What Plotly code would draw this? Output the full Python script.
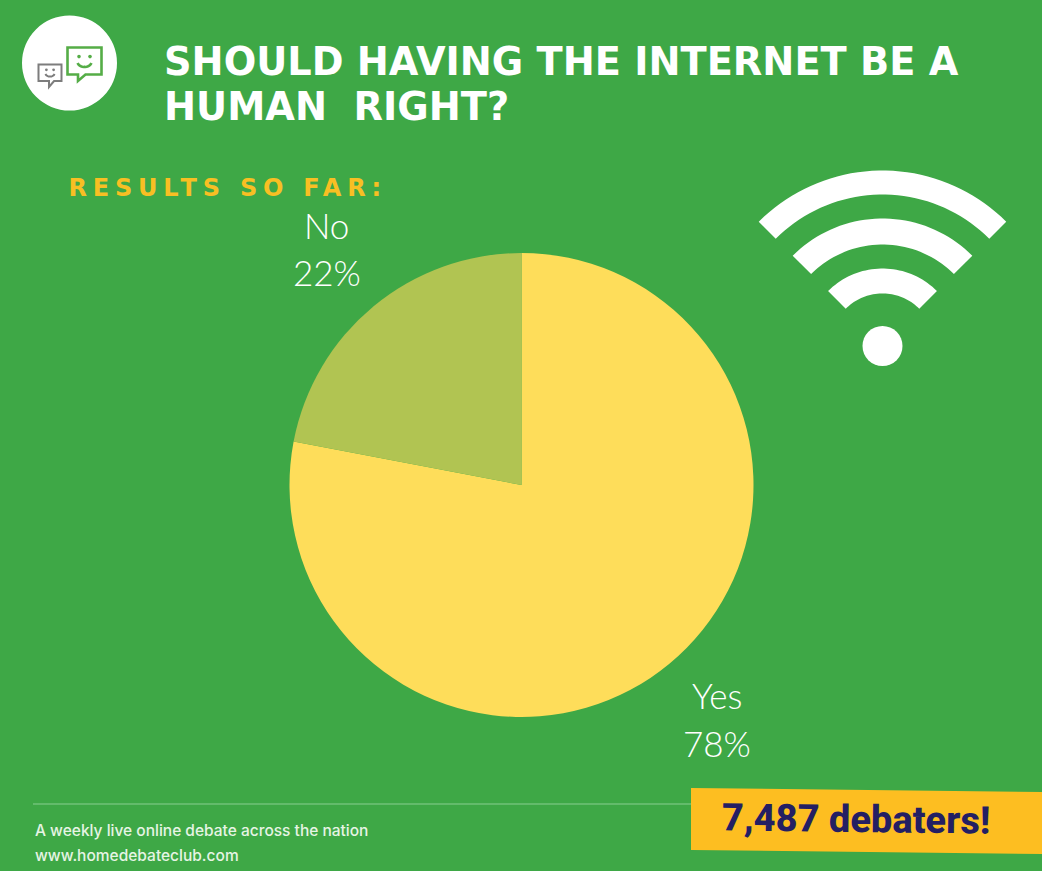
import numpy as np
import plotly.graph_objects as go

W, H = 1042, 871
labels = ["Yes", "No"]
values = [78, 22]
slice_colors = ["#fedd5a", "#b1c452"]
title_lines = ["SHOULD HAVING THE INTERNET BE A", "HUMAN  RIGHT?"]
subtitle = "RESULTS SO FAR:"
banner_text = "7,487 debaters!"
footer_lines = ["A weekly live online debate across the nation", "www.homedebateclub.com"]

BG = "#3ea846"
GOLD = "#fdbe21"
NAVY = "#241f63"
GREY = "#7d7d7d"
LOGO_GREEN = "#55ad47"
FOOT = "#e6f4e4"


def X(v):
    return v / W


def Y(v):
    return 1 - v / H


def poly(points, fill, line=None, width=0):
    path = "M " + " L ".join(f"{X(a):.5f} {Y(b):.5f}" for a, b in points) + " Z"
    return dict(type="path", xref="paper", yref="paper", path=path, fillcolor=fill,
                line=dict(color=line or fill, width=width), layer="above")


def circle(cx, cy, r, fill):
    return dict(type="circle", xref="paper", yref="paper", x0=X(cx - r), x1=X(cx + r),
                y0=Y(cy + r), y1=Y(cy - r), fillcolor=fill, line=dict(width=0), layer="above")


def arc(cx, cy, r, a0, a1, n=40):
    t = np.radians(np.linspace(a0, a1, n))
    return [(cx + r * np.sin(v), cy - r * np.cos(v)) for v in t]


def band(cx, cy, r0, r1, half):
    return arc(cx, cy, r1, -half, half) + arc(cx, cy, r0, half, -half)


def text(x, y, s, size, color, family, weight=400, anchor="left", angle=0):
    return dict(xref="paper", yref="paper", x=X(x), y=Y(y), text=s, showarrow=False,
                xanchor=anchor, yanchor="middle", textangle=angle,
                font=dict(size=size, color=color, family=family, weight=weight))


def bubble(x0, y0, x1, y1, tx, tip_y, color, lw, eye, smile):
    pts = [(x0, y0), (x1, y0), (x1, y1), (tx + (x1 - x0) * 0.22, y1), (tx, tip_y),
           (tx, y1), (x0, y1)]
    cx = (x0 + x1) / 2
    cy = (y0 + y1) / 2
    out = [poly(pts, "white", color, lw)]
    out.append(circle(cx - eye, cy - eye * 0.8, lw * 0.7, color))
    out.append(circle(cx + eye, cy - eye * 0.8, lw * 0.7, color))
    sm = [(cx + smile * np.sin(np.radians(a)), cy + smile * 0.15 + smile * 0.7 * np.cos(np.radians(a)))
          for a in np.linspace(-80, 80, 14)]
    path = "M " + " L ".join(f"{X(a):.5f} {Y(b):.5f}" for a, b in sm)
    out.append(dict(type="path", xref="paper", yref="paper", path=path,
                    line=dict(color=color, width=lw), layer="above"))
    return out


shapes = [
    circle(69.5, 63, 47.5, "white"),
    *bubble(67.5, 47.5, 101.5, 74.5, 78, 81, LOGO_GREEN, 2.6, 5.5, 7),
    *bubble(38.5, 64.5, 61.5, 81, 49, 87, GREY, 2, 3.6, 4.5),
    poly(band(882.5, 345.5, 151, 175, 45), "white"),
    poly(band(882.5, 345.5, 101, 127, 45), "white"),
    poly(band(882.5, 345.5, 52, 77, 45), "white"),
    circle(882.5, 346, 20, "white"),
    dict(type="line", xref="paper", yref="paper", x0=X(33), x1=X(691), y0=Y(804), y1=Y(804),
         line=dict(color="#71c278", width=1.5), layer="above"),
    poly([(691, 788), (1042, 792), (1042, 854), (691, 850)], GOLD),
]

annotations = [
    text(162, 62, title_lines[0], 38.3, "white", "DejaVu Sans", 700),
    text(162, 107, title_lines[1], 38.3, "white", "DejaVu Sans", 700),
    text(110, 188, subtitle, 24, "#f8bf23", "DejaVu Sans", 700),
    text(326.5, 225, labels[1], 35, "white", "Lato", 300, "center"),
    text(326.5, 272, f"{values[1]}%", 35, "white", "Lato", 300, "center"),
    text(717, 695, labels[0], 35, "white", "Lato", 300, "center"),
    text(717, 743, f"{values[0]}%", 35, "white", "Lato", 300, "center"),
    text(33, 830, footer_lines[0], 15.5, FOOT, "Inter", 500),
    text(33, 855, footer_lines[1], 15.5, FOOT, "Inter", 500),
    text(856, 819, banner_text, 38, NAVY, "Roboto", 800, "center", 0.7),
]

fig = go.Figure(go.Pie(
    labels=labels,
    values=values,
    sort=False,
    direction="clockwise",
    rotation=0,
    textinfo="none",
    hoverinfo="label+percent",
    marker=dict(colors=slice_colors, line=dict(width=0)),
    domain=dict(x=[X(289.5), X(753.5)], y=[Y(717), Y(253)]),
))
fig.update_layout(
    width=W, height=H, margin=dict(l=0, r=0, t=0, b=0, pad=0), autosize=False,
    paper_bgcolor=BG, plot_bgcolor=BG, showlegend=False,
    shapes=shapes, annotations=annotations,
)
post = """
document.body.style.margin='0';
document.body.style.background='%s';
document.querySelectorAll('.annotation-text').forEach(function(t){
  if(t.textContent==='%s'){t.style.letterSpacing='5.8px';}
});
""" % (BG, subtitle)
fig.write_html("out.html", post_script=post, config=dict(displayModeBar=False))
